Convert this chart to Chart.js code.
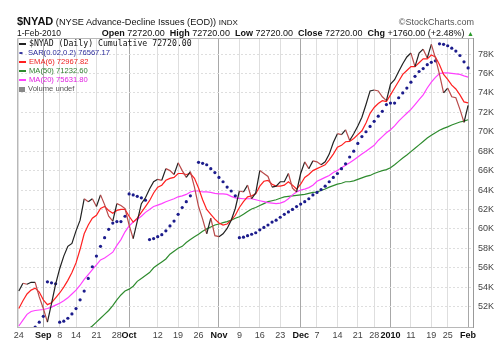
<!DOCTYPE html>
<html lang="en">
<head>
<meta charset="UTF-8">
<title>$NYAD (NYSE Advance-Decline Issues)</title>
<script src="https://cdn.jsdelivr.net/npm/chart.js"></script>
<style>
  body { margin: 0; background: #fff; font-family: "Liberation Sans", Arial, sans-serif; color: #111; }
  #wrap { position: relative; width: 504px; height: 341px; overflow: hidden; }
  #chart { position: absolute; left: 0; top: 0; }
  .txt { position: absolute; white-space: nowrap; line-height: 1; }
  #title { left: 17px; top: 16px; font-size: 9.2px; }
  #title b { font-size: 11px; }
  #brand { right: 30px; top: 18px; font-size: 9px; color: #555; }
  #date { left: 17px; top: 29px; font-size: 8.5px; }
  #quote { right: 30px; top: 29px; font-size: 9px; }
  #quote b { font-weight: bold; }
  #quote .up { color: #2a9a2a; font-size: 7px; }
  #legend { left: 19px; top: 39px; font-size: 7.6px; }
  #legend div { height: 9px; line-height: 9px; }
  #legend .mono { font-family: "DejaVu Sans Mono", monospace; font-size: 8.2px; }
  .mk { display: inline-block; width: 7px; height: 2px; vertical-align: middle; margin-right: 3px; }
  .dots { display: inline-block; width: 7px; margin-right: 2px; font-size: 7px; letter-spacing: -1px; }
</style>
</head>
<body>
<div id="wrap">
  <canvas id="chart" width="504" height="341"></canvas>
  <div class="txt" id="title"><b>$NYAD</b> (NYSE Advance-Decline Issues (EOD)) <span style="font-size:8px">INDX</span></div>
  <div class="txt" id="brand">&copy;StockCharts.com</div>
  <div class="txt" id="date">1-Feb-2010</div>
  <div class="txt" id="quote"><b>Open</b> 72720.00 &nbsp;<b>High</b> 72720.00 &nbsp;<b>Low</b> 72720.00 &nbsp;<b>Close</b> 72720.00 &nbsp;<b>Chg</b> +1760.00 (+2.48%) <span class="up">&#9650;</span></div>
  <div class="txt" id="legend">
    <div class="mono"><span class="mk" style="background:#222"></span>$NYAD (Daily) Cumulative 72720.00</div>
    <div style="color:#2a2a9a"><span class="dots">&bull;&bull;</span>SAR(0.02,0.2) 76567.17</div>
    <div style="color:#ee2222"><span class="mk" style="background:#ff2020"></span>EMA(6) 72967.82</div>
    <div style="color:#2e7d2e"><span class="mk" style="background:#2e8b2e"></span>MA(50) 71232.60</div>
    <div style="color:#e020e0"><span class="mk" style="background:#ff40ff"></span>MA(20) 75631.80</div>
    <div style="color:#555"><span class="mk" style="background:#888;height:5px;width:6px"></span>Volume undef</div>
  </div>
</div>
<script>
// trading days from 24-Aug-2009 (day 0) to 1-Feb-2010 (day 110); values in thousands
const tickDays = [0, 6, 10, 14, 19, 24, 27, 34, 39, 44, 49, 54, 59, 64, 69, 73, 78, 83, 87, 91, 96, 101, 105, 110];
const tickLabels = ['24', 'Sep', '8', '14', '21', '28', 'Oct', '12', '19', '26', 'Nov', '9', '16', '23', 'Dec', '7', '14', '21', '28', '2010', '11', '19', '25', 'Feb'];
const monthLabels = ['Sep', 'Oct', 'Nov', 'Dec', '2010', 'Feb'];
const yTicks = [52, 54, 56, 58, 60, 62, 64, 66, 68, 70, 72, 74, 76, 78];

const close = [
  53.6, 54.4, 54.3, 54.5, 54.5, 53.0, 51.8, 50.4, 52.3, 54.3,
  55.9, 57.2, 58.2, 58.5, 59.8, 60.9, 63.1, 62.8, 63.1, 62.3,
  63.5, 62.5, 61.3, 60.8, 62.6, 62.4, 62.1, 60.4, 59.0, 60.8,
  62.6, 63.2, 64.1, 64.85, 65.1, 65.0, 66.2, 66.0, 65.6, 66.8,
  66.0, 65.3, 65.9, 64.3, 62.3, 61.0, 59.5, 61.1, 59.3, 59.2,
  59.5, 60.05, 60.9, 62.1, 63.9, 63.8, 64.5, 63.1, 63.7, 66.0,
  65.7, 65.4, 64.3, 64.4, 64.85, 64.85, 65.7, 64.2, 63.8, 65.7,
  66.9, 66.2, 67.0, 66.9, 66.6, 66.9, 67.7, 68.9, 69.8, 69.7,
  70.2, 69.1, 69.8, 70.6, 71.5, 72.8, 74.2, 74.3, 74.2, 73.6,
  73.2, 74.9, 75.35, 76.2, 77.0, 77.7, 78.1, 76.7, 78.1, 78.5,
  77.6, 79.0, 77.6, 75.9, 74.0, 74.5, 73.6, 73.5, 72.3, 70.96,
  72.72
];

const sar = [
  null, null, null, null, 49.9, 50.4, 51.0, 54.55, 54.45, 54.35,
  50.4, 50.5, 50.8, 51.25, 51.8, 52.7, 53.6, 54.9, 56.1, 57.2,
  58.2, 59.1, 59.95, 60.6, 60.75, 60.75, 61.3, 63.6, 63.5, 63.35,
  63.2, 62.96, 58.9, 59.0, 59.2, 59.4, 59.8, 60.3, 60.8, 61.5,
  62.2, 62.8, 63.4, null, 66.85, 66.75, 66.6, 66.2, 65.8, 65.3,
  64.85, 64.3, 63.9, 63.4, 59.1, 59.15, 59.3, 59.45, 59.6, 59.9,
  60.15, 60.4, 60.7, 60.9, 61.2, 61.5, 61.75, 62.0, 62.3, 62.55,
  62.8, 63.1, 63.5, 63.75, 64.05, 64.4, 64.85, 65.3, 65.7, 66.2,
  66.7, 67.4, 68.0, 68.8, 69.5, 70.0, 70.55, 71.07, 71.6, 72.1,
  72.8, 72.95, 72.95, 73.5, 74.0, 74.5, 75.1, 75.7, 76.2, 76.5,
  76.9, 77.15, 77.3, 79.05, 79.0, 78.85, 78.6, 78.3, 77.85, 77.2,
  76.57
];

const ema6 = [
  51.8, 52.6, 53.3, 53.7, 53.9, 53.5, 52.7, 52.2, 52.4, 52.9,
  53.4, 54.0, 54.7, 55.5, 56.5, 57.9, 59.5, 60.4, 61.1, 61.4,
  62.1, 62.3, 61.9, 61.6, 61.9, 62.0, 62.0, 61.3, 60.7, 61.1,
  61.7, 62.3, 62.9, 63.7, 64.3, 64.5, 65.0, 65.2, 65.3, 65.7,
  65.7, 65.6, 65.7, 65.2, 64.2, 63.0, 62.0, 61.5, 61.0, 60.6,
  60.4, 60.5, 60.9, 61.4, 62.2, 62.8, 63.3, 63.4, 63.6, 64.4,
  64.9, 65.0, 64.6, 64.4, 64.4, 64.5, 64.85, 64.5, 64.1, 64.6,
  65.3, 65.6, 66.0, 66.2, 66.4, 66.6, 67.1, 67.7, 68.4, 68.6,
  68.97, 69.0, 69.3, 69.7, 70.1, 70.9, 71.9, 72.5, 72.9, 73.2,
  73.1, 73.8, 74.5, 75.2, 75.9, 76.3, 76.7, 76.7, 77.1, 77.5,
  77.5, 77.9, 77.7, 76.9, 75.9, 75.4, 74.8, 74.4, 73.8, 73.07,
  72.97
];

const ma20 = [
  50.0, 50.6, 51.2, 51.5, 51.6, 51.65, 51.7, 51.8, 51.95, 52.15,
  52.35, 52.6, 52.9, 53.3, 53.7, 54.2, 54.8, 55.3, 55.8, 56.3,
  56.8, 57.0, 57.3, 57.6, 58.3, 58.9, 59.7, 60.3, 60.7, 61.0,
  61.3, 61.7, 62.0, 62.3, 62.45, 62.6, 62.8, 62.95, 63.1, 63.3,
  63.4, 63.55, 63.8, 63.9, 63.9, 63.8, 63.8, 63.75, 63.65, 63.6,
  63.6, 63.55, 63.35, 63.2, 63.15, 63.1, 63.1, 63.1, 63.0, 62.9,
  62.8, 62.7, 62.65, 62.6, 62.65, 62.8, 63.1, 63.5, 63.8, 64.0,
  64.1, 64.25, 64.5, 64.9, 65.1, 65.3, 65.5, 65.8, 66.0, 66.3,
  66.55, 66.8, 67.1, 67.4, 67.7, 68.0, 68.3, 68.6, 69.1, 69.5,
  69.9, 70.2, 70.6, 71.1, 71.5, 71.9, 72.3, 72.8, 73.3, 73.8,
  74.5, 75.1, 75.6, 76.0, 76.05, 76.05, 76.0, 75.95, 75.9, 75.75,
  75.63
];

const ma50 = [
  null, null, null, null, null, null, null, null, null, null,
  null, null, null, null, null, null, null, 49.7, 50.0, 50.4,
  50.8, 51.2, 51.6, 52.1, 52.7, 53.2, 53.6, 53.8, 54.1, 54.6,
  54.9, 55.2, 55.5, 56.0, 56.3, 56.6, 56.9, 57.4, 57.7, 58.0,
  58.2, 58.6, 58.9, 59.2, 59.45, 59.75, 60.0, 60.2, 60.4, 60.5,
  60.65, 60.75, 60.9, 61.1, 61.25, 61.5, 61.8, 62.05, 62.2, 62.4,
  62.6, 62.8, 62.9, 63.0, 63.15, 63.3, 63.35, 63.4, 63.45, 63.5,
  63.55, 63.65, 63.75, 63.8, 63.95, 64.1, 64.3, 64.45, 64.6, 64.7,
  64.85, 64.85, 64.95, 65.1, 65.25, 65.4, 65.5, 65.7, 65.85, 66.0,
  66.1, 66.3, 66.6, 66.95, 67.3, 67.6, 67.95, 68.3, 68.65, 69.0,
  69.35, 69.65, 69.9, 70.15, 70.35, 70.5, 70.7, 70.85, 71.0, 71.1,
  71.23
];

const points = arr => arr.map((v, i) => ({ x: i, y: v }));
const isMonth = i => monthLabels.includes(tickLabels[i]);

// top and left edges of the plot box
const frame = {
  id: 'frame',
  beforeDatasetsDraw(chart) {
    const { ctx, chartArea: a } = chart;
    ctx.save();
    ctx.strokeStyle = '#b8b8b8';
    ctx.lineWidth = 1;
    ctx.beginPath();
    ctx.moveTo(a.left + 0.5, a.bottom);
    ctx.lineTo(a.left + 0.5, a.top + 0.5);
    ctx.lineTo(a.right, a.top + 0.5);
    ctx.stroke();
    ctx.restore();
  }
};

new Chart(document.getElementById('chart'), {
  type: 'line',
  data: {
    datasets: [
      {
        label: '$NYAD', data: points(close), order: 0,
        borderWidth: 1.2, pointRadius: 0,
        borderColor: '#222',
        segment: { borderColor: c => c.p1.parsed.y < c.p0.parsed.y ? '#b94a4a' : '#222' }
      },
      {
        label: 'SAR', data: points(sar), order: 1, showLine: false,
        pointRadius: 1.6, pointBorderWidth: 0, pointBackgroundColor: '#1c1c8c'
      },
      { label: 'EMA(6)', data: points(ema6), order: 2, borderColor: '#ff2020', borderWidth: 1.2, pointRadius: 0 },
      { label: 'MA(20)', data: points(ma20), order: 3, borderColor: '#ff40ff', borderWidth: 1.2, pointRadius: 0 },
      { label: 'MA(50)', data: points(ma50), order: 4, borderColor: '#2e8b2e', borderWidth: 1.2, pointRadius: 0 }
    ]
  },
  options: {
    responsive: false,
    animation: false,
    layout: { padding: { left: 17, top: 38, right: 0, bottom: 0 } },
    plugins: { legend: { display: false }, tooltip: { enabled: false } },
    scales: {
      x: {
        type: 'linear', min: -0.45, max: 111.2,
        afterBuildTicks: s => { s.ticks = tickDays.map(v => ({ value: v })); },
        afterFit: s => { s.height = 14; },
        grid: {
          drawTicks: false,
          color: c => isMonth(c.index) ? '#a8a8a8' : '#dedede'
        },
        border: { color: '#b8b8b8' },
        ticks: {
          autoSkip: false, maxRotation: 0, minRotation: 0, padding: 3,
          callback: (v, i) => tickLabels[i],
          color: c => isMonth(c.index) ? '#111' : '#444',
          font: c => ({ family: '"Liberation Sans", Arial', size: 9, weight: isMonth(c.index) ? 'bold' : 'normal' })
        }
      },
      y: {
        position: 'right', min: 49.9, max: 79.65,
        afterBuildTicks: s => { s.ticks = yTicks.map(v => ({ value: v })); },
        afterFit: s => { s.width = 31; },
        grid: { drawTicks: false, color: '#dedede' },
        border: { color: '#999', dash: [2, 2] },
        ticks: {
          padding: 5, color: '#444',
          callback: v => v + 'K',
          font: { family: '"Liberation Sans", Arial', size: 9 }
        }
      }
    }
  },
  plugins: [frame]
});
</script>
</body>
</html>
